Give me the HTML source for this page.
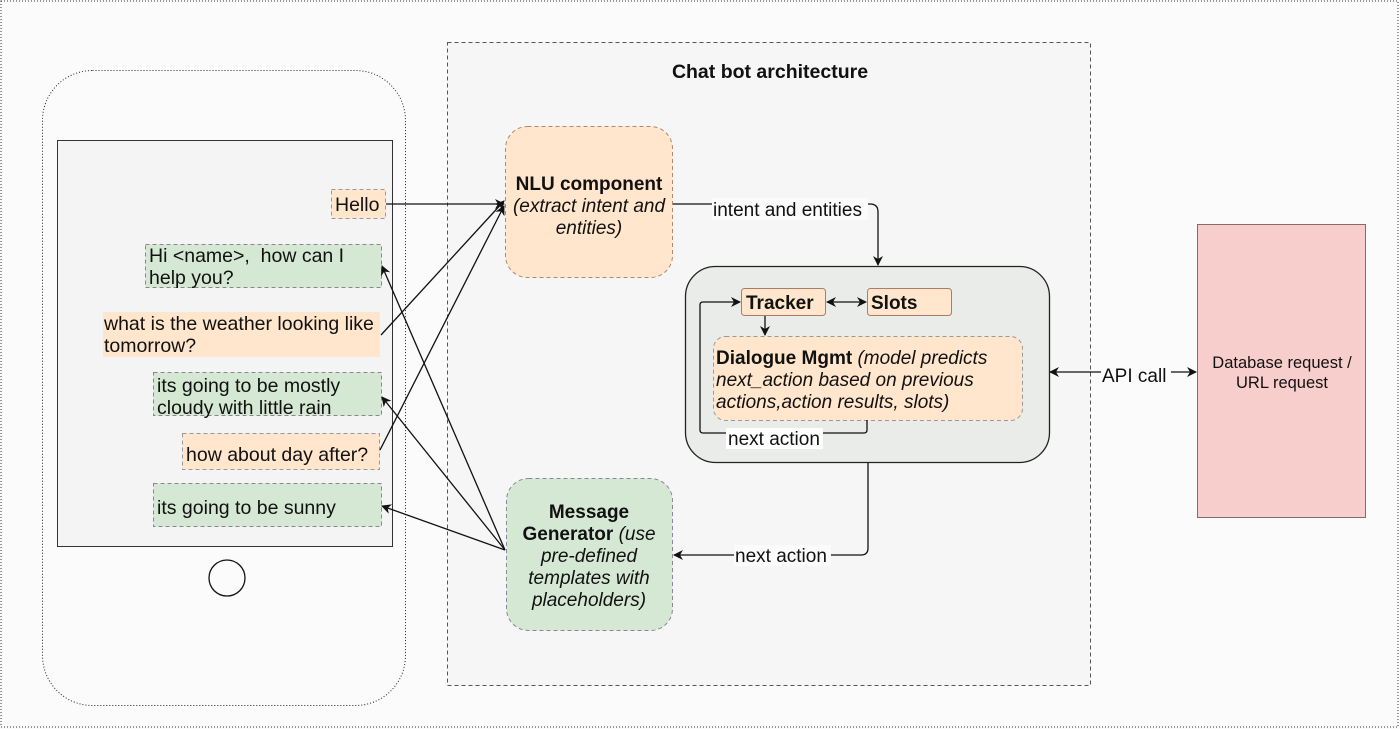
<!DOCTYPE html>
<html><head><meta charset="utf-8"><style>
html,body{margin:0;padding:0;background:#fbfbfb;}
svg{display:block;font-family:"Liberation Sans",Arial,sans-serif;}
</style></head><body>
<svg width="1400" height="729" viewBox="0 0 1400 729" xmlns="http://www.w3.org/2000/svg">
<defs>
<marker id="a" viewBox="0 0 10 10" refX="9" refY="5" markerWidth="10" markerHeight="10" orient="auto-start-reverse" markerUnits="userSpaceOnUse"><path d="M0,0 L10,5 L0,10 L3,5 z" fill="#111"/></marker>
</defs>
<rect x="0" y="0" width="1400" height="729" fill="#fbfbfb"/>
<rect x="1" y="1" width="1397" height="726" fill="none" stroke="#333" stroke-dasharray="1,2"/>
<rect x="447.5" y="42.5" width="643" height="643" fill="#f6f6f6" stroke="#555" stroke-dasharray="4,3"/>
<text x="770" y="78" text-anchor="middle" font-weight="bold" font-size="19.5" fill="#111">Chat bot architecture</text>
<rect x="42.5" y="70.5" width="363" height="635" rx="50" fill="#fbfbfb" stroke="#222" stroke-dasharray="1,2"/>
<rect x="57.5" y="140.5" width="335" height="406" fill="#f4f4f4" stroke="#333"/>
<circle cx="227" cy="578" r="18" fill="#fbfbfb" stroke="#111" stroke-width="1.3"/>
<g font-size="19.5" fill="#111">
<rect x="331.5" y="189.5" width="54" height="29" fill="#ffe6cc" stroke="#999" stroke-dasharray="4,3"/>
<text x="335" y="211">Hello</text>
<rect x="145.5" y="244.5" width="236" height="43" fill="#d5e8d4" stroke="#888" stroke-dasharray="4,3"/>
<text x="149" y="262" xml:space="preserve">Hi &lt;name&gt;,  how can I</text>
<text x="149" y="284">help you?</text>
<rect x="103" y="312" width="277" height="45" fill="#ffe6cc"/>
<text x="104" y="330">what is the weather looking like</text>
<text x="104" y="352">tomorrow?</text>
<rect x="153.5" y="372.5" width="228" height="43" fill="#d5e8d4" stroke="#888" stroke-dasharray="4,3"/>
<text x="157" y="392">its going to be mostly</text>
<text x="157" y="414">cloudy with little rain</text>
<rect x="182.5" y="433.5" width="197" height="36" fill="#ffe6cc" stroke="#999" stroke-dasharray="4,3"/>
<text x="186" y="461">how about day after?</text>
<rect x="153.5" y="483.5" width="228" height="43" fill="#d5e8d4" stroke="#888" stroke-dasharray="4,3"/>
<text x="157" y="514">its going to be sunny</text>
</g>
<rect x="505.5" y="126.5" width="167" height="151" rx="22" fill="#ffe6cc" stroke="#b08a6a" stroke-dasharray="4,3"/>
<text x="589" y="190" text-anchor="middle" font-size="19" font-weight="bold" fill="#111">NLU component</text>
<text x="589" y="212" text-anchor="middle" font-size="19" font-style="italic" fill="#111">(extract intent and</text>
<text x="589" y="234" text-anchor="middle" font-size="19" font-style="italic" fill="#111">entities)</text>
<rect x="506.5" y="478.5" width="166" height="152" rx="22" fill="#d5e8d4" stroke="#889" stroke-dasharray="4,3"/>
<text x="589" y="518" text-anchor="middle" font-size="19" fill="#111"><tspan font-weight="bold">Message</tspan></text>
<text x="589" y="540" text-anchor="middle" font-size="19" fill="#111"><tspan font-weight="bold">Generator</tspan> <tspan font-style="italic">(use</tspan></text>
<text x="589" y="562" text-anchor="middle" font-size="19" font-style="italic" fill="#111">pre-defined</text>
<text x="589" y="584" text-anchor="middle" font-size="19" font-style="italic" fill="#111">templates with</text>
<text x="589" y="606" text-anchor="middle" font-size="19" font-style="italic" fill="#111">placeholders)</text>
<rect x="685.5" y="266.5" width="364" height="196" rx="30" fill="#e9ece9" stroke="#222" stroke-width="1.3"/>
<rect x="741.5" y="288.5" width="84" height="27" rx="3" fill="#ffe6cc" stroke="#b07a6a"/>
<text x="746" y="309" font-size="19" font-weight="bold" fill="#111">Tracker</text>
<rect x="867.5" y="288.5" width="84" height="27" rx="3" fill="#ffe6cc" stroke="#b07a6a"/>
<text x="871" y="309" font-size="19" font-weight="bold" fill="#111">Slots</text>
<rect x="713.5" y="336.5" width="309" height="84" rx="12" fill="#ffe6cc" stroke="#999" stroke-dasharray="4,3"/>
<text x="716" y="364" font-size="19" fill="#111"><tspan font-weight="bold">Dialogue Mgmt</tspan> <tspan font-style="italic">(model predicts</tspan></text>
<text x="716" y="386" font-size="19" font-style="italic" fill="#111">next_action based on previous</text>
<text x="716" y="408" font-size="19" font-style="italic" fill="#111">actions,action results, slots)</text>
<path d="M867,420 V430 Q867,433 864,433 H703 Q700,433 700,430 V305 Q700,302 703,302 H740" fill="none" stroke="#111" stroke-width="1.3" marker-end="url(#a)"/>
<rect x="726" y="428" width="97" height="21" fill="#fff"/>
<text x="728" y="445" font-size="19" fill="#111">next action</text>
<line x1="765" y1="316" x2="765" y2="335" stroke="#111" stroke-width="1.3" marker-end="url(#a)"/>
<line x1="827" y1="302" x2="866" y2="302" stroke="#111" stroke-width="1.3" marker-start="url(#a)" marker-end="url(#a)"/>
<rect x="1197.5" y="224.5" width="168" height="293" fill="#f8cecc" stroke="#8a6a66"/>
<text x="1282" y="368" text-anchor="middle" font-size="16.5" fill="#111">Database request /</text>
<text x="1282" y="388" text-anchor="middle" font-size="16.5" fill="#111">URL request</text>
<line x1="1050" y1="372" x2="1196" y2="372" stroke="#111" stroke-width="1.3" marker-start="url(#a)" marker-end="url(#a)"/>
<rect x="1101" y="362" width="70" height="22" fill="#fbfbfb"/>
<text x="1102" y="382" font-size="19" fill="#111">API call</text>
<g stroke="#111" stroke-width="1.3" fill="none" marker-end="url(#a)">
<line x1="386" y1="204" x2="504" y2="204"/>
<line x1="381" y1="335" x2="504" y2="201"/>
<line x1="380" y1="450" x2="504" y2="206"/>
<line x1="505" y1="550" x2="382" y2="266"/>
<line x1="505" y1="550" x2="382" y2="397"/>
<line x1="505" y1="550" x2="382" y2="506"/>
<path d="M673,204 H870 Q878,204 878,212 V265"/>
<path d="M868,463 V548 Q868,555 861,555 H674"/>
</g>
<rect x="712" y="198" width="156" height="22" fill="#fbfbfb"/>
<text x="713" y="216" font-size="19" fill="#111">intent and entities</text>
<rect x="734" y="545" width="97" height="21" fill="#fbfbfb"/>
<text x="735" y="562" font-size="19" fill="#111">next action</text>
</svg>
</body></html>
